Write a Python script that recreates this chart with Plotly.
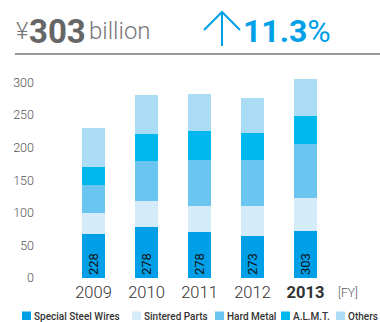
import plotly.graph_objects as go

years = ['2009', '2010', '2011', '2012', '2013']
year_labels = ['2009', '2010', '2011', '2012', '<b>2013</b>']
totals = [228, 278, 278, 273, 303]

segments = ['Special Steel Wires', 'Sintered Parts', 'Hard Metal', 'A.L.M.T.', 'Others']
special_steel = [68, 78, 71, 65, 72]
sintered = [32, 40, 40, 46, 51]
hard_metal = [42, 62, 70, 70, 83]
almt = [29, 41, 44, 41, 43]
others = [59, 60, 57, 54, 57]

colors = ['#00a0e9', '#d4ecf9', '#6ac5f1', '#00b8ee', '#abdcf5']
values = [special_steel, sintered, hard_metal, almt, others]

FONT = 'Roboto'
W, H = 380, 322
L, R, T, B = 67, 48, 76, 44
pw, ph = W - L - R, H - T - B


def px(x):
    return (x - L) / pw


def py(y):
    return (H - B - y) / ph


fig = go.Figure()
for i, (name, vals) in enumerate(zip(segments, values)):
    fig.add_trace(go.Bar(
        x=years, y=vals, name=name,
        marker=dict(color=colors[i], line=dict(width=0)),
        text=totals if i == 0 else None,
        textposition='inside' if i == 0 else 'none',
        insidetextanchor='start',
        textangle=-90,
        textfont=dict(family=FONT, size=13, color='#111'),
        hoverinfo='skip',
    ))

fig.update_layout(
    width=W, height=H,
    barmode='stack', bargap=0.566,
    showlegend=False,
    plot_bgcolor='white', paper_bgcolor='white',
    font=dict(family=FONT, color='#555'),
    margin=dict(l=L, r=R, t=T, b=B, autoexpand=False),
    uniformtext=dict(mode='show', minsize=10),
)
fig.update_xaxes(
    tickvals=years, ticktext=year_labels, automargin=False,
    tickfont=dict(size=16.5, color='#333', weight=300),
    showline=False, showgrid=False, ticks='', ticklabelstandoff=2,
)
fig.update_yaxes(
    range=[0, 310], tickvals=[0, 50, 100, 150, 200, 250, 300], automargin=False,
    tickfont=dict(size=12.5, color='#555', weight=300),
    showgrid=False, showline=False, zeroline=False, ticks='',
    ticklabelstandoff=32,
)

annos = [
    dict(x=px(14), y=py(31), text='¥', font=dict(size=24, color='#777', weight=300)),
    dict(x=px(27), y=py(31), text='<b>303</b>', font=dict(size=33, color='#666')),
    dict(x=px(87), y=py(31), text='billion', font=dict(size=24, color='#777', weight=300)),
    dict(x=px(241), y=py(31), text='<b>11.3</b>%', font=dict(size=32, color='#00a0e9')),
    dict(x=px(336), y=py(293), text='[FY]', font=dict(size=12, color='#555', weight=300)),
]
for a in annos:
    fig.add_annotation(xref='paper', yref='paper', xanchor='left', yanchor='middle',
                       showarrow=False, **a)

# header arrow and rule
fig.add_shape(type='path', xref='paper', yref='paper',
              path=f'M {px(222)} {py(46)} L {px(222)} {py(12)} M {px(204)} {py(30)} '
                   f'L {px(222)} {py(12)} L {px(240)} {py(30)}',
              line=dict(color='#00a0e9', width=2))
fig.add_shape(type='line', xref='paper', yref='paper',
              x0=px(15), x1=px(380), y0=py(54), y1=py(54),
              line=dict(color='#333', width=1))

# legend row
sq_x = [22, 132, 215, 281, 336]
for name, c, x in zip(segments, colors, sq_x):
    fig.add_shape(type='rect', xref='paper', yref='paper',
                  x0=px(x), x1=px(x + 9), y0=py(311.5), y1=py(320),
                  fillcolor=c, line=dict(width=0))
    fig.add_annotation(xref='paper', yref='paper', x=px(x + 10), y=py(316),
                       xanchor='left', yanchor='middle', showarrow=False,
                       text=name, font=dict(size=10, color='#333', weight=500))

# drop the page's default body margin so the figure sits at the window's corner
fig.write_html('out.html', config={'displayModeBar': False},
               post_script="document.body.style.margin='0';")
